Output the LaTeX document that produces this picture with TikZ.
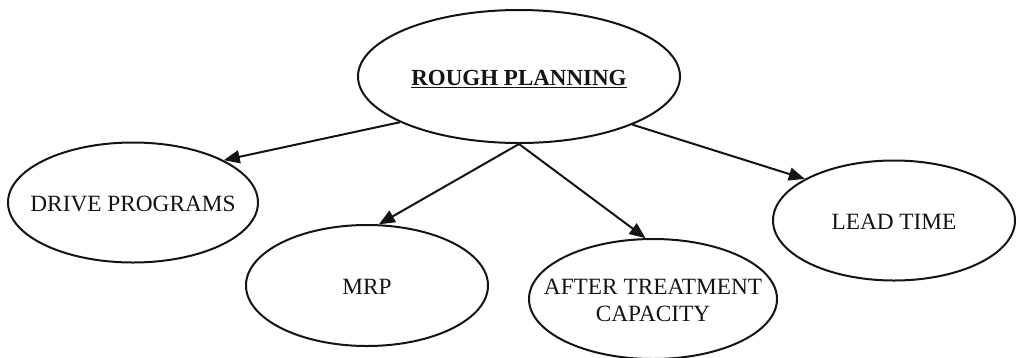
\documentclass[tikz,border=0pt]{standalone}
\usepackage{xcolor}
\usepackage{fontspec}
\setmainfont{Liberation Serif}
\usepackage{tikz}
\usetikzlibrary{positioning,arrows.meta,shapes,shapes.geometric,calc}
\definecolor{inkline}{RGB}{20,20,20}
% text that does not widen the ellipse, set a little below its middle
\newcommand{\flattext}[1]{\raisebox{0pt}[\dimexpr\height+7pt\relax][\depth]{\makebox[0pt]{\begin{tabular}{@{}c@{}}#1\end{tabular}}}}

\begin{document}
\begin{tikzpicture}[x=1pt, y=-1pt,
    bubble/.style={draw=inkline, line width=2pt, ellipse, inner sep=0pt,
        text=inkline, font=\fontsize{23.3}{27}\selectfont},
    link/.style={draw=inkline, line width=2pt, -{Triangle[length=16pt,width=13pt]}}]
  \useasboundingbox (0,0) rectangle (1020,357);

  \node[bubble, minimum width=322pt, minimum height=133pt,
        font=\fontsize{23}{27}\selectfont\bfseries] (rough) at (519,76.5)
        {\flattext{\underline{ROUGH PLANNING}}};
  \node[bubble, minimum width=250pt, minimum height=120pt] (drive) at (133,202.5)
        {\flattext{DRIVE PROGRAMS}};
  \node[bubble, minimum width=242pt, minimum height=121pt] (mrp) at (367,285.5)
        {\flattext{MRP}};
  \node[bubble, minimum width=248pt, minimum height=120pt] (after) at (653,299)
        {\flattext{AFTER TREATMENT\\CAPACITY}};
  \node[bubble, minimum width=242pt, minimum height=120pt] (lead) at (894,220.5)
        {\flattext{LEAD TIME}};

  % arrows out of the top ellipse
  \draw[link] (rough.201.7) -- (drive.25);
  \draw[link] (rough.270) -- (mrp.79.7);
  \draw[link] (rough.270) -- (after.97.6);
  \draw[link] (rough.337.8) -- (lead.155.2);
\end{tikzpicture}
\end{document}
